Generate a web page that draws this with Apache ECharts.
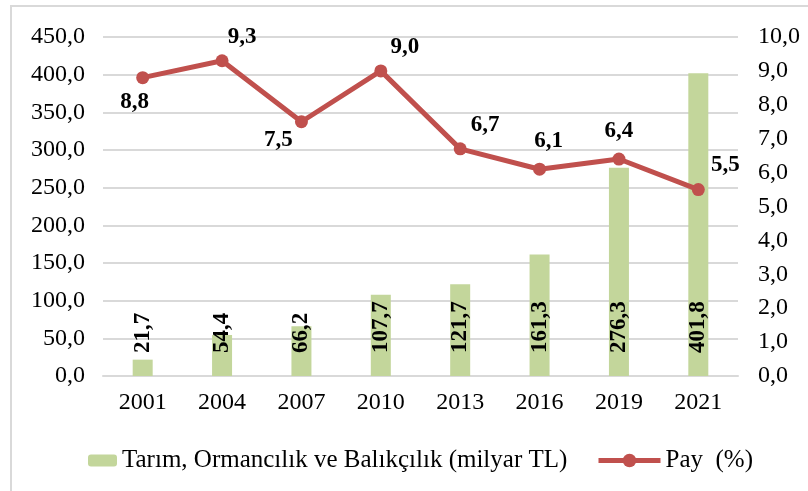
<!DOCTYPE html>
<html lang="tr">
<head>
<meta charset="UTF-8">
<title>Tarım, Ormancılık ve Balıkçılık</title>
<script src="https://cdn.jsdelivr.net/npm/echarts@6/dist/echarts.min.js"></script>
<style>
  html, body { margin: 0; padding: 0; background: #fff; }
  #chart { width: 808px; height: 491px; }
</style>
</head>
<body>
<div id="chart"></div>
<script>
// data
var years = ['2001', '2004', '2007', '2010', '2013', '2016', '2019', '2021'];
var sectorValue = [21.7, 54.4, 66.2, 107.7, 121.7, 161.3, 276.3, 401.8];
var shareValue = [8.8, 9.3, 7.5, 9.0, 6.7, 6.1, 6.4, 5.5];
var barName = 'Tarım, Ormancılık ve Balıkçılık (milyar TL)';
var lineName = 'Pay  (%)';

var font = '"Liberation Serif", "Times New Roman", serif';
var green = '#c3d69b';
var red = '#c0504d';
var gridGray = '#d9d9d9';

function comma(v) {
  return v.toFixed(1).replace('.', ',');
}

// where each share label sits around its point
var labelPlace = [
  ['bottom', [-8, -2]],
  ['top', [20, 2]],
  ['bottom', [-23, -8]],
  ['top', [24, 2]],
  ['top', [25, 2]],
  ['top', [9, -2]],
  ['top', [0, -2]],
  ['top', [27, 2]]
];

var lineData = shareValue.map(function (v, i) {
  return {
    value: v,
    label: { position: labelPlace[i][0], offset: labelPlace[i][1] }
  };
});

var chart = echarts.init(document.getElementById('chart'));

chart.setOption({
  animation: false,
  textStyle: { fontFamily: font },
  graphic: [{
    type: 'rect',
    shape: { x: 11, y: 6, width: 830, height: 520 },
    style: { fill: 'none', stroke: gridGray, lineWidth: 2 },
    silent: true
  }],
  grid: { left: 103, right: 70, top: 37, bottom: 115 },
  legend: [{
    data: [barName],
    left: 83,
    top: 443,
    itemWidth: 29,
    itemHeight: 12,
    selectedMode: false,
    textStyle: { fontFamily: font, fontSize: 25, color: '#000' }
  }, {
    data: [lineName],
    left: 591,
    top: 443,
    itemWidth: 62,
    itemHeight: 17,
    selectedMode: false,
    lineStyle: { width: 5 },
    textStyle: { fontFamily: font, fontSize: 25, color: '#000' }
  }],
  xAxis: {
    type: 'category',
    data: years,
    boundaryGap: true,
    axisLine: { lineStyle: { color: gridGray, width: 2 } },
    axisTick: { show: false },
    axisLabel: { color: '#000', fontFamily: font, fontSize: 24, margin: 15 }
  },
  yAxis: [{
    type: 'value',
    min: 0,
    max: 450,
    interval: 50,
    axisLine: { show: false },
    axisTick: { show: false },
    splitLine: { lineStyle: { color: gridGray, width: 2 } },
    axisLabel: {
      color: '#000', fontFamily: font, fontSize: 24, margin: 18,
      formatter: function (v) { return comma(v); }
    }
  }, {
    type: 'value',
    min: 0,
    max: 10,
    interval: 1,
    axisLine: { show: false },
    axisTick: { show: false },
    splitLine: { show: false },
    axisLabel: {
      color: '#000', fontFamily: font, fontSize: 24, margin: 20,
      formatter: function (v) { return comma(v); }
    }
  }],
  series: [{
    name: barName,
    type: 'bar',
    data: sectorValue,
    barWidth: 20,
    itemStyle: { color: green },
    label: {
      show: true,
      position: 'insideBottom',
      rotate: 90,
      align: 'left',
      verticalAlign: 'middle',
      distance: 23,
      color: '#000',
      fontFamily: font,
      fontWeight: 'bold',
      fontSize: 23,
      formatter: function (p) { return comma(p.value); }
    }
  }, {
    name: lineName,
    type: 'line',
    yAxisIndex: 1,
    data: lineData,
    symbol: 'circle',
    symbolSize: 13,
    lineStyle: { color: red, width: 5 },
    itemStyle: { color: red },
    label: {
      show: true,
      color: '#000',
      fontFamily: font,
      fontWeight: 'bold',
      fontSize: 23,
      distance: 8,
      formatter: function (p) { return comma(p.value); }
    }
  }]
});
</script>
</body>
</html>
